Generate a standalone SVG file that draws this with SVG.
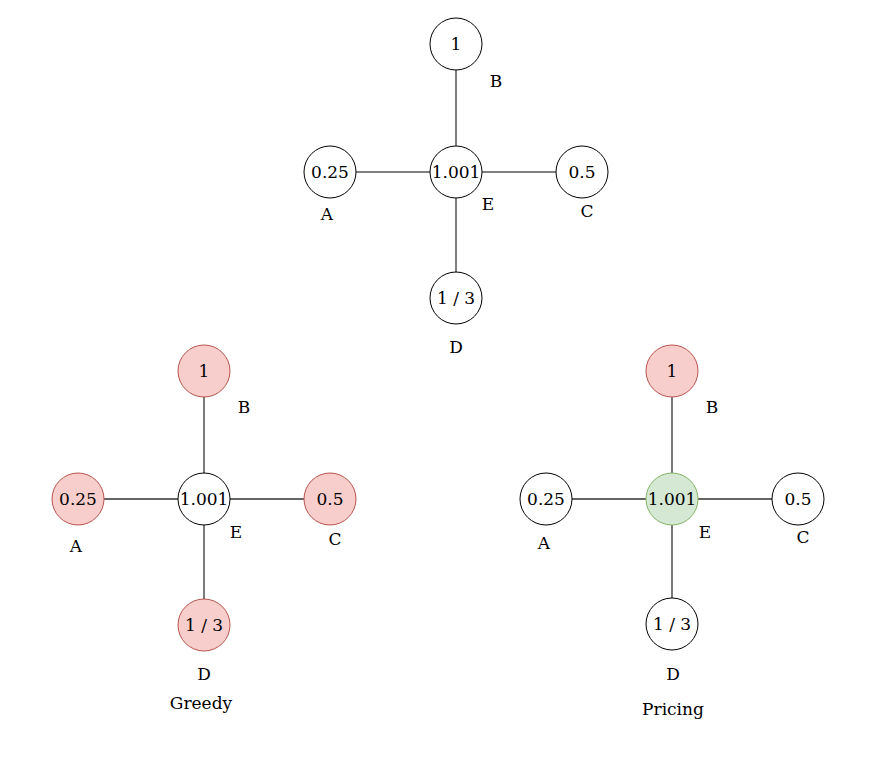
<svg xmlns="http://www.w3.org/2000/svg" width="896" height="760" viewBox="0 0 896 760">
<style>
.n{fill:#fff;stroke:#000;stroke-width:1}
.r{fill:#f8cecc;stroke:#b85450;stroke-width:1}
.g{fill:#d5e8d4;stroke:#82b366;stroke-width:1}
.t{font-family:"DejaVu Serif","Liberation Serif",serif;font-size:17px;fill:#000;text-anchor:middle;dominant-baseline:central}
.e{stroke:#000;stroke-width:1;fill:none}
.e2{stroke:#333;stroke-width:1.3;fill:none}
</style>
<rect width="896" height="760" fill="#fff"/>
<g id="connectors">
<path class="e" d="M456 70V146M456 198V272M356 172H430M482 172H556"/>
<path class="e2" d="M204 397V473M204 525V599M104 499H178M230 499H304"/>
<path class="e2" d="M672 397V473M672 525V598M572 499H646M698 499H772"/>
</g>
<g id="top-B"><circle class="n" cx="456" cy="44" r="26"/><text class="t" x="456" y="44">1</text><text class="t" x="496" y="81">B</text></g>
<g id="top-A"><circle class="n" cx="330" cy="172" r="26"/><text class="t" x="330" y="172">0.25</text><text class="t" x="327" y="214">A</text></g>
<g id="top-E"><circle class="n" cx="456" cy="172" r="26"/><text class="t" x="456" y="172">1.001</text><text class="t" x="488" y="204">E</text></g>
<g id="top-C"><circle class="n" cx="582" cy="172" r="26"/><text class="t" x="582" y="172">0.5</text><text class="t" x="587" y="211">C</text></g>
<g id="top-D"><circle class="n" cx="456" cy="298" r="26"/><text class="t" x="456" y="298">1 / 3</text><text class="t" x="456" y="347">D</text></g>

<g id="greedy-B"><circle class="r" cx="204" cy="371" r="26"/><text class="t" x="204" y="371">1</text><text class="t" x="244" y="407">B</text></g>
<g id="greedy-A"><circle class="r" cx="78" cy="499" r="26"/><text class="t" x="78" y="499">0.25</text><text class="t" x="76" y="546">A</text></g>
<g id="greedy-E"><circle class="n" cx="204" cy="499" r="26"/><text class="t" x="204" y="499">1.001</text><text class="t" x="236" y="532">E</text></g>
<g id="greedy-C"><circle class="r" cx="330" cy="499" r="26"/><text class="t" x="330" y="499">0.5</text><text class="t" x="335" y="539">C</text></g>
<g id="greedy-D"><circle class="r" cx="204" cy="625" r="26"/><text class="t" x="204" y="625">1 / 3</text><text class="t" x="204" y="674">D</text></g>
<g id="greedy-label"><text class="t" x="201" y="703">Greedy</text></g>

<g id="pricing-B"><circle class="r" cx="672" cy="371" r="26"/><text class="t" x="672" y="371">1</text><text class="t" x="712" y="407">B</text></g>
<g id="pricing-A"><circle class="n" cx="546" cy="499" r="26"/><text class="t" x="546" y="499">0.25</text><text class="t" x="544" y="543">A</text></g>
<g id="pricing-E"><circle class="g" cx="672" cy="499" r="26"/><text class="t" x="672" y="499">1.001</text><text class="t" x="705" y="532">E</text></g>
<g id="pricing-C"><circle class="n" cx="798" cy="499" r="26"/><text class="t" x="798" y="499">0.5</text><text class="t" x="803" y="537">C</text></g>
<g id="pricing-D"><circle class="n" cx="672" cy="624" r="26"/><text class="t" x="672" y="624">1 / 3</text><text class="t" x="673" y="674">D</text></g>
<g id="pricing-label"><text class="t" x="673" y="709">Pricing</text></g>
</svg>
